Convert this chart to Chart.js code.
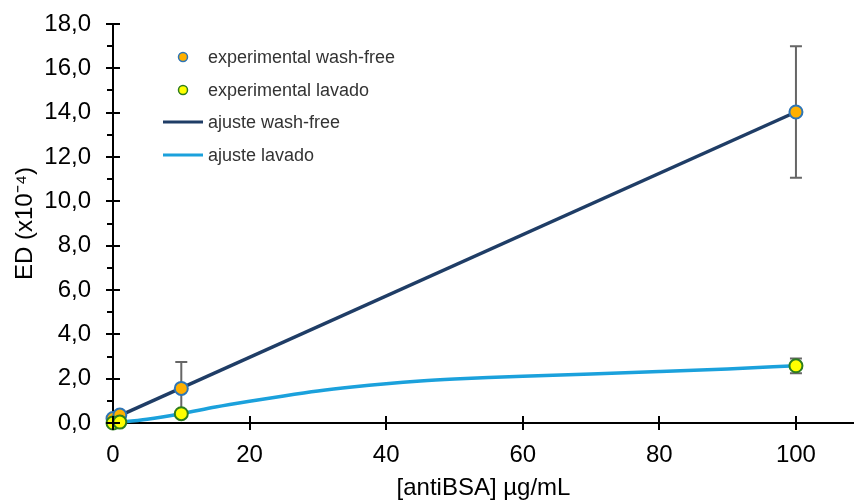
<!DOCTYPE html>
<html lang="es">
<head>
    <meta charset="UTF-8">
    <title>ED vs antiBSA</title>
    <script src="https://cdn.jsdelivr.net/npm/chart.js@4.4.1/dist/chart.umd.min.js"></script>
    <style>
        body {
            margin: 0;
            background: #fff;
        }
        #wrap {
            width: 854px;
            height: 501px;
        }
    </style>
</head>
<body>
    <div id="wrap"><canvas id="chart" width="854" height="501"></canvas></div>

    <script>
        // datos experimentales
        const concX = [0, 1, 10, 100];
        const edWashFree = [0.2, 0.36, 1.56, 14.03];
        const errWashFree = [0, 0, 1.19, 2.97];
        const edLavado = [0.0, 0.04, 0.42, 2.58];
        const errLavado = [0, 0, 0, 0.33];

        // curvas de ajuste
        const fitWashFreeX = [0, 100];
        const fitWashFreeY = [0.2, 14.03];
        const fitLavadoX = [0, 5, 10, 15, 20, 25, 30, 35, 40, 45, 50, 55, 60, 70, 80, 90, 100];
        const fitLavadoY = [0, 0.17, 0.42, 0.72, 0.98, 1.22, 1.44, 1.62, 1.77, 1.89, 1.98, 2.05, 2.11, 2.21, 2.32, 2.44, 2.58];

        const xTicks = [0, 20, 40, 60, 80, 100];
        const yTicks = [0, 2, 4, 6, 8, 10, 12, 14, 16, 18];
        const yMinorTicks = [1, 3, 5, 7, 9, 11, 13, 15, 17];

        const FONT = "'Liberation Sans', Arial, sans-serif";

        function toPoints(xs, ys) {
            return xs.map((x, i) => ({ x: x, y: ys[i] }));
        }

        // barras de error, debajo de las series
        const errorBars = {
            id: 'errorBars',
            beforeDatasetsDraw(chart) {
                const ctx = chart.ctx;
                const xs = chart.scales.x, ys = chart.scales.y;
                ctx.save();
                ctx.strokeStyle = '#666666';
                ctx.lineWidth = 2;
                chart.data.datasets.forEach(ds => {
                    if (!ds.errors) return;
                    ds.data.forEach((p, i) => {
                        const e = ds.errors[i];
                        if (!e) return;
                        const px = xs.getPixelForValue(p.x);
                        const top = ys.getPixelForValue(p.y + e);
                        const bot = ys.getPixelForValue(p.y - e);
                        ctx.beginPath();
                        ctx.moveTo(px, top); ctx.lineTo(px, bot);
                        ctx.moveTo(px - 6, top); ctx.lineTo(px + 6, top);
                        ctx.moveTo(px - 6, bot); ctx.lineTo(px + 6, bot);
                        ctx.stroke();
                    });
                });
                ctx.restore();
            }
        };

        // marcas de los ejes (cruzan el eje)
        const axisTicks = {
            id: 'axisTicks',
            afterDraw(chart) {
                const ctx = chart.ctx;
                const xs = chart.scales.x, ys = chart.scales.y;
                const left = chart.chartArea.left, bottom = chart.chartArea.bottom;
                ctx.save();
                ctx.strokeStyle = '#000';
                ctx.lineWidth = 2;
                ctx.beginPath();
                yTicks.forEach(v => {
                    const py = Math.round(ys.getPixelForValue(v));
                    ctx.moveTo(left - 7, py); ctx.lineTo(left + 7, py);
                });
                yMinorTicks.forEach(v => {
                    const py = Math.round(ys.getPixelForValue(v));
                    ctx.moveTo(left - 6, py); ctx.lineTo(left, py);
                });
                xTicks.forEach(v => {
                    const px = Math.round(xs.getPixelForValue(v));
                    ctx.moveTo(px, bottom - 7); ctx.lineTo(px, bottom + 7);
                });
                ctx.stroke();
                ctx.restore();
            }
        };

        // leyenda dentro del area del grafico
        const innerLegend = {
            id: 'innerLegend',
            afterDraw(chart) {
                const ctx = chart.ctx;
                const rowY = [57, 90, 122, 155];
                ctx.save();
                ctx.font = '18px ' + FONT;
                ctx.textBaseline = 'middle';
                chart.data.datasets.forEach((ds, i) => {
                    const y = rowY[i];
                    if (ds.showLine === false) {
                        ctx.beginPath();
                        ctx.arc(183, y, 4.5, 0, Math.PI * 2);
                        ctx.fillStyle = ds.backgroundColor;
                        ctx.fill();
                        ctx.lineWidth = 1.5;
                        ctx.strokeStyle = ds.borderColor;
                        ctx.stroke();
                    } else {
                        ctx.beginPath();
                        ctx.moveTo(163, y); ctx.lineTo(203, y);
                        ctx.lineWidth = 3;
                        ctx.strokeStyle = ds.borderColor;
                        ctx.stroke();
                    }
                    ctx.fillStyle = '#333333';
                    ctx.fillText(ds.label, 208, y + 1);
                });
                ctx.restore();
            }
        };

        const ctx = document.getElementById('chart').getContext('2d');
        new Chart(ctx, {
            type: 'scatter',
            data: {
                datasets: [{
                    label: 'experimental wash-free',
                    data: toPoints(concX, edWashFree),
                    errors: errWashFree,
                    showLine: false,
                    backgroundColor: '#FFB000',
                    borderColor: '#2E75B6',
                    borderWidth: 2,
                    pointRadius: 6.5,
                    order: 1,
                    clip: false
                }, {
                    label: 'experimental lavado',
                    data: toPoints(concX, edLavado),
                    errors: errLavado,
                    showLine: false,
                    backgroundColor: '#FFFF00',
                    borderColor: '#2E7D1E',
                    borderWidth: 2,
                    pointRadius: 6.5,
                    order: 0,
                    clip: false
                }, {
                    label: 'ajuste wash-free',
                    data: toPoints(fitWashFreeX, fitWashFreeY),
                    showLine: true,
                    borderColor: '#1F3D66',
                    borderWidth: 3.5,
                    pointRadius: 0,
                    order: 3,
                    clip: false
                }, {
                    label: 'ajuste lavado',
                    data: toPoints(fitLavadoX, fitLavadoY),
                    showLine: true,
                    borderColor: '#1BA1DC',
                    borderWidth: 3.5,
                    pointRadius: 0,
                    cubicInterpolationMode: 'monotone',
                    order: 2,
                    clip: false
                }]
            },
            options: {
                responsive: false,
                animation: false,
                events: [],
                layout: { autoPadding: false, padding: { top: 24, right: 0, bottom: 0, left: 0 } },
                plugins: {
                    legend: { display: false },
                    tooltip: { enabled: false }
                },
                scales: {
                    x: {
                        type: 'linear',
                        min: 0,
                        max: 108.5,
                        afterBuildTicks: s => { s.ticks = xTicks.map(v => ({ value: v })); },
                        afterFit: s => {
                            s.height = 78;
                            s.paddingLeft = 0;
                            s.paddingRight = 0;
                        },
                        grid: { display: false, drawTicks: false },
                        border: { display: true, color: '#000', width: 2 },
                        ticks: {
                            color: '#000',
                            padding: 18,
                            maxRotation: 0,
                            font: { family: FONT, size: 24 }
                        },
                        title: {
                            display: true,
                            text: '[antiBSA] µg/mL',
                            color: '#000',
                            padding: { top: 0, bottom: -2 },
                            font: { family: FONT, size: 24 }
                        }
                    },
                    y: {
                        min: 0,
                        max: 18,
                        afterBuildTicks: s => { s.ticks = yTicks.map(v => ({ value: v })); },
                        afterFit: s => {
                            s.width = 113;
                            s.paddingTop = 0;
                            s.paddingBottom = 0;
                        },
                        grid: { display: false, drawTicks: false },
                        border: { display: true, color: '#000', width: 2 },
                        ticks: {
                            color: '#000',
                            padding: 22,
                            font: { family: FONT, size: 24 },
                            callback: v => v.toFixed(1).replace('.', ',')
                        },
                        title: {
                            display: true,
                            text: 'ED (x10⁻⁴)',
                            color: '#000',
                            padding: { top: 11, bottom: 0 },
                            font: { family: FONT, size: 24 }
                        }
                    }
                }
            },
            plugins: [errorBars, axisTicks, innerLegend]
        });
    </script>
</body>
</html>
